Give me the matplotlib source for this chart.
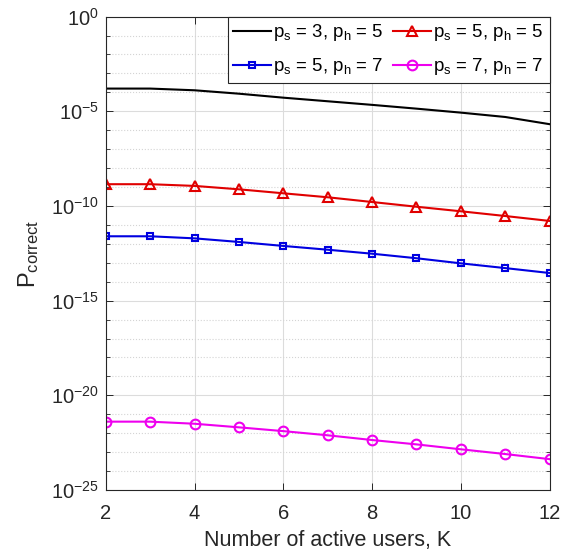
import numpy as np
import matplotlib
matplotlib.use("Agg")
import matplotlib.pyplot as plt

plt.rcParams['font.family'] = ['Liberation Sans', 'DejaVu Sans']
plt.rcParams['mathtext.fontset'] = 'custom'
plt.rcParams['mathtext.rm'] = 'Liberation Sans'
plt.rcParams['mathtext.it'] = 'Liberation Sans'
plt.rcParams['axes.unicode_minus'] = False

# number of active users
K = [2, 3, 4, 5, 6, 7, 8, 9, 10, 11, 12]

# log10 of P_correct
log_ps3_ph5 = [-3.80, -3.80, -3.89, -4.07, -4.28, -4.47, -4.66, -4.86, -5.07, -5.30, -5.68]
log_ps5_ph5 = [-8.85, -8.85, -8.94, -9.12, -9.33, -9.54, -9.79, -10.04, -10.28, -10.53, -10.79]
log_ps5_ph7 = [-11.60, -11.60, -11.71, -11.90, -12.11, -12.31, -12.52, -12.76, -13.03, -13.28, -13.54]
log_ps7_ph7 = [-21.39, -21.39, -21.50, -21.69, -21.89, -22.11, -22.36, -22.59, -22.85, -23.10, -23.37]

labels = [r'p$_\mathregular{s}$ = 3, p$_\mathregular{h}$ = 5',
          r'p$_\mathregular{s}$ = 5, p$_\mathregular{h}$ = 5',
          r'p$_\mathregular{s}$ = 5, p$_\mathregular{h}$ = 7',
          r'p$_\mathregular{s}$ = 7, p$_\mathregular{h}$ = 7']

fig = plt.figure(figsize=(5.66, 5.54), dpi=100)
ax = fig.add_axes([0.1868, 0.1155, 0.7842, 0.8545])

lw = 1.5
h1, = ax.semilogy(K, 10.0 ** np.array(log_ps3_ph5), color='k', lw=lw, label=labels[0])
h2, = ax.semilogy(K, 10.0 ** np.array(log_ps5_ph5), color='#e00000', lw=lw, marker='^',
                  ms=7.5, mfc='none', mew=1.5, label=labels[1])
h3, = ax.semilogy(K, 10.0 ** np.array(log_ps5_ph7), color='#0000e0', lw=lw, marker='s',
                  ms=4.5, mfc='none', mew=1.5, label=labels[2])
h4, = ax.semilogy(K, 10.0 ** np.array(log_ps7_ph7), color='#ee00ee', lw=lw, marker='o',
                  ms=7, mfc='none', mew=1.5, label=labels[3])

ax.set_xlim(2, 12)
ax.set_ylim(1e-25, 1e0)
ax.set_xticks([2, 4, 6, 8, 10, 12])
ax.set_yticks([10.0 ** e for e in range(-25, 1, 5)])
ax.set_yticks([10.0 ** e for e in range(-25, 1) if e % 5 != 0], minor=True)
ax.yaxis.set_minor_formatter(matplotlib.ticker.NullFormatter())

ax.grid(True, which='major', color='#dcdcdc', lw=0.8, ls='-')
ax.grid(True, which='minor', axis='y', color='#d4d4d4', lw=0.8, ls=':')
ax.set_axisbelow(True)

ax.tick_params(which='both', direction='in', top=True, right=True,
               labelsize=14.5, colors='#262626', labelcolor='#262626')
ax.tick_params(which='major', length=5, width=0.7)
ax.tick_params(which='minor', length=3, width=0.6)
ax.tick_params(axis='x', which='major', pad=10)
ax.tick_params(axis='y', which='major', pad=5)
for sp in ax.spines.values():
    sp.set_color('#262626')
    sp.set_linewidth(0.8)

ax.set_xlabel('Number of active users, K', fontsize=15.5, color='#262626', labelpad=5)
ax.set_ylabel(r'P$_\mathregular{correct}$', fontsize=17, color='#262626', labelpad=7)

# MATLAB fills legend rows first
leg = ax.legend([h1, h3, h2, h4], [labels[0], labels[2], labels[1], labels[3]],
                ncol=2, loc='upper right', borderaxespad=0, fontsize=13.4,
                fancybox=False, framealpha=1, edgecolor='#262626',
                handlelength=2.0, handletextpad=0.15, columnspacing=0.5,
                borderpad=0.3, labelspacing=0.7)
leg.get_frame().set_linewidth(0.8)

fig.savefig('out.png', dpi=100)
